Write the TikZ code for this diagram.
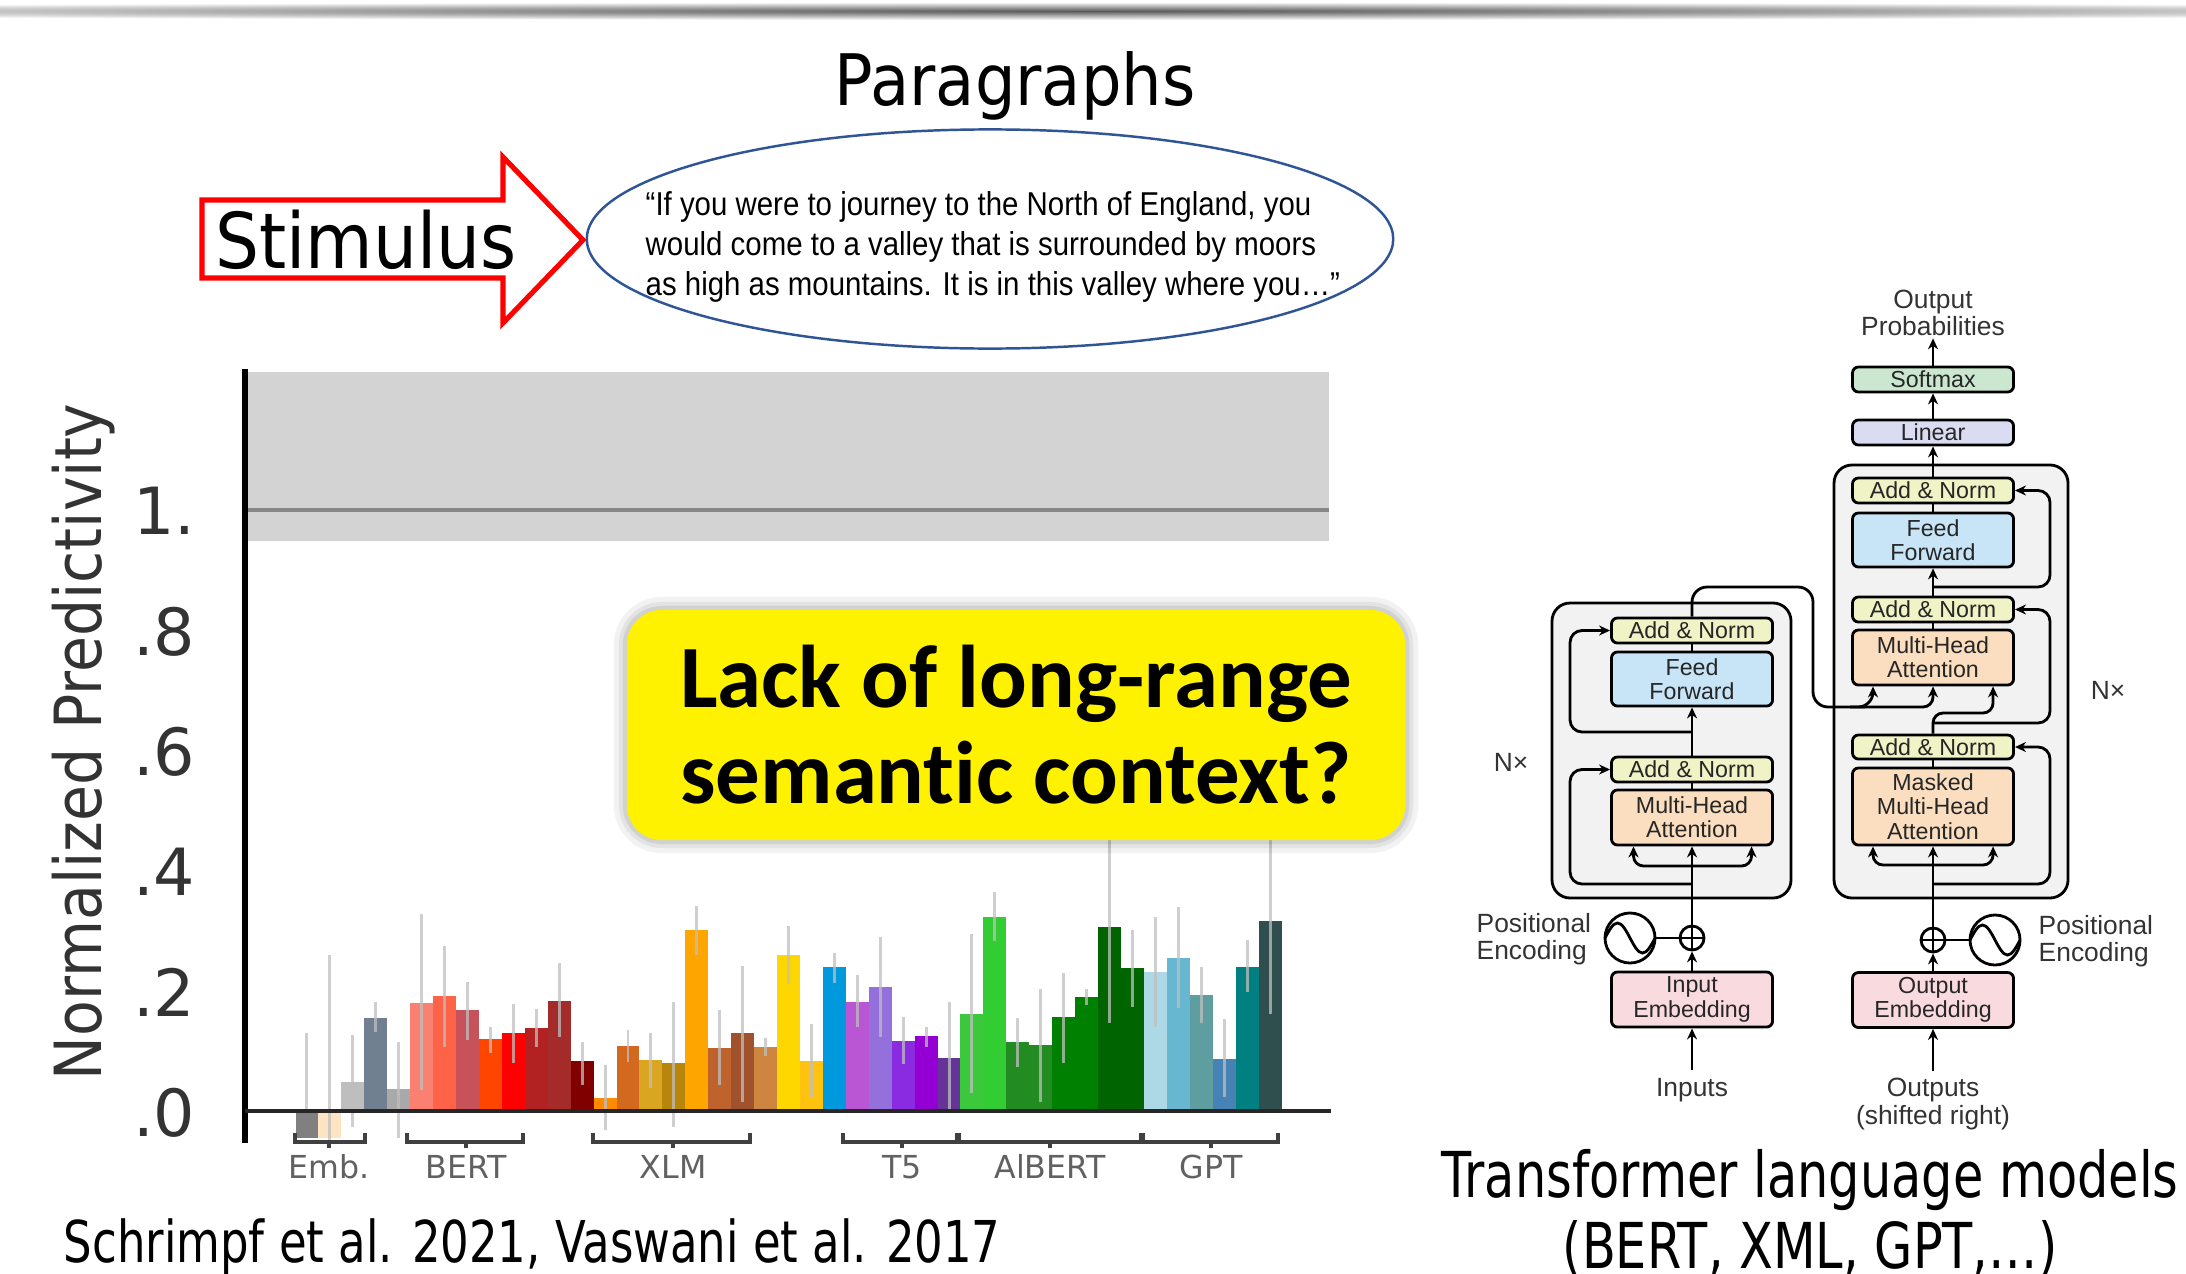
\documentclass[tikz,border=0pt]{standalone}
\usepackage{fontspec}
\setmainfont{DejaVu Sans}
\newfontfamily\slidefont[FakeStretch=0.9]{DejaVu Sans}
\newfontfamily\narrowfont[FakeStretch=0.78]{DejaVu Sans}
\newfontfamily\quotefont[FakeStretch=0.89]{Liberation Sans}
\newfontfamily\tffont{Liberation Sans}
\newfontfamily\calloutfont[Ligatures={NoCommon}]{Carlito}
\usetikzlibrary{arrows.meta,shapes.geometric}

\definecolor{ellblue}{HTML}{2F5597}
\definecolor{bandgray}{HTML}{D3D3D3}
\definecolor{softc}{HTML}{CBE7CF}
\definecolor{linc}{HTML}{DADDF2}
\definecolor{addc}{HTML}{EFF3C6}
\definecolor{ffc}{HTML}{C7E5F6}
\definecolor{mhac}{HTML}{FBDEC0}
\definecolor{embc}{HTML}{F8DADF}
\definecolor{outerc}{HTML}{F2F2F2}

\begin{document}
\begin{tikzpicture}[x=0.01cm, y=-0.01cm,
tbox/.style={draw, line width=0.8pt, rounded corners=0.6mm, minimum width=16.1mm, inner sep=0pt, align=center, text=black!85, font=\tffont\fontsize{6.6pt}{6.9pt}\selectfont},
addnorm/.style={tbox, fill=addc, minimum height=2.5mm},
ffbox/.style={tbox, fill=ffc, minimum height=5.4mm},
mhabox/.style={tbox, fill=mhac, minimum height=5.5mm},
embbox/.style={tbox, fill=embc, minimum height=5.5mm},
outerbox/.style={draw, fill=outerc, line width=0.8pt, rounded corners=1.8mm},
tlabel/.style={inner sep=2pt, align=center, text=black!80, font=\tffont\fontsize{7.5pt}{7.7pt}\selectfont},
tline/.style={line width=0.8pt},
tarrow/.style={-{Stealth[length=1.1mm, width=1mm]}, line width=0.8pt},
ticklab/.style={inner sep=0pt, text=black!80, font=\fontsize{18.5pt}{20pt}\selectfont},
grplab/.style={text=black!62, font=\fontsize{9pt}{10pt}\selectfont},
bracket/.style={line width=0.9pt, black!75},
errbar/.style={line width=0.85pt, black!25, opacity=0.75},
]
\useasboundingbox (0,0) rectangle (2186,1273);
\fill[white] (0,0) rectangle (2186,1273);

%top rule
\shade[inner color=black!65, outer color=white] (1093,11) ellipse [x radius=1700, y radius=9];

%Title and stimulus
\node[anchor=base, font=\slidefont\fontsize{20.2pt}{22pt}\selectfont] (title) at (1015,106) {Paragraphs};
\draw[red, line width=1.45pt] (202,200) -- (503,200) -- (503,157) -- (583,240) -- (503,323) -- (503,278) -- (202,278) -- cycle;
\node[anchor=base, font=\slidefont\fontsize{21.9pt}{24pt}\selectfont] (stim) at (366,268) {Stimulus};
\node[ellipse, draw=ellblue, line width=0.7pt, minimum width=80.6mm, minimum height=21.9mm] (para) at (990,239) {};
\node[anchor=west, align=left, inner sep=0pt, font=\quotefont\fontsize{9.4pt}{11.4pt}\selectfont] (quote) at (645,247)
  {“If you were to journey to the North of England, you\\would come to a valley that is surrounded by moors\\as high as mountains. It is in this valley where you…”};

%Chart
\fill[bandgray] (248,372) rectangle (1329,541);
\draw[black!47, line width=1.4pt] (248,510) -- (1329,510);
\foreach \c/\t/\ea/\eb [count=\i from 0] in {
  808080/1138/1033/1112, FFE4C4/1138/955/1145, BEBEBE/1082/1035/1127, 708090/1018/1002/1032,
  A9A9A9/1089/1042/1138, FA8072/1003/914/1090, FF6347/996/946/1047, C8525A/1010/982/1040,
  FF4500/1039/1027/1053, FF0000/1033/1004/1063, B22222/1028/1009/1047, A52A2A/1001/963/1037,
  800000/1061/1042/1085, FF8C00/1098/1065/1130, D2691E/1046/1030/1062, DAA520/1060/1033/1088,
  B8860B/1063/1002/1127, FFA500/930/906/955, C0622B/1048/1010/1085, A0522D/1033/966/1102,
  CD853F/1047/1038/1056, FFD700/955/926/984, FFC20E/1061/1024/1098, 0099DD/967/953/983,
  BA55D3/1002/975/1027, 9370DB/987/937/1037, 8A2BE2/1041/1017/1064, 9400D3/1036/1027/1047,
  663399/1058/1002/1109, 3CC83C/1014/934/1093, 32CD32/917/892/941, 228B22/1042/1018/1067,
  228B22/1045/989/1102, 008000/1017/973/1063, 008000/997/989/1005, 006400/927/830/1023,
  006400/968/930/1007, ADD8E6/972/917/1027, 67B7D1/958/907/1008, 5F9EA0/995/967/1023,
  4682B4/1059/1019/1097, 008080/967/940/992, 2F4F4F/921/830/1014}
{
  \definecolor{barc}{HTML}{\c}
  \fill[barc] ({295.5+\i*22.93},1111) rectangle ({295.5+(\i+1)*22.93},\t);
  \draw[errbar] ({295.5+(\i+0.5)*22.93},\ea) -- ({295.5+(\i+0.5)*22.93},\eb);
}
\draw[line width=1.7pt] (245,369) -- (245,1143);
\draw[line width=0.9pt, black!85] (245,1111) -- (1331,1111);
\foreach \v/\lab [count=\k] in {0/.0, 0.2/.2, 0.4/.4, 0.6/.6, 0.8/.8, 1/1.}
  \node[ticklab, anchor=east] (tick\k) at (196,{1113-602*\v}) {\lab};
\node[rotate=90, text=black!80, font=\slidefont\fontsize{18.5pt}{20pt}\selectfont] (ytitle) at (84,742) {Normalized Predictivity};
\foreach \a/\b/\m/\lab [count=\k] in {295/365/329/Emb., 407/523/466/BERT, 593/750/673/XLM, 843/957/902/T5, 959/1141/1050/AlBERT, 1143/1278/1211/GPT}
{
  \draw[bracket] (\a,1133) -- (\a,1142) -- (\b,1142) -- (\b,1133);
  \draw[bracket] (\m,1142) -- (\m,1148);
  \node[grplab, anchor=base] (grp\k) at (\m,1178) {\lab};
}

%Callout
\node[fill=yellow, rounded corners=3.5mm, minimum width=77.8mm, minimum height=23mm, align=center,
  preaction={draw=black, opacity=0.05, line width=2.6mm},
  preaction={draw=black, opacity=0.06, line width=1.6mm},
  preaction={draw=black, opacity=0.08, line width=0.8mm},
  font=\calloutfont\bfseries\fontsize{25.3pt}{27.3pt}\selectfont] (lack) at (1016,725) {Lack of long-range\\semantic context?};

%Transformer
\draw[outerbox] (1552,603) rectangle (1791,898);
\draw[outerbox] (1834,465) rectangle (2068,898);

\node[addnorm] (eadd1) at (1692,630.5) {Add \& Norm};
\node[ffbox] (eff) at (1692,679) {Feed\\Forward};
\node[addnorm] (eadd0) at (1692,769.5) {Add \& Norm};
\node[mhabox] (emha) at (1692,817.5) {Multi-Head\\Attention};
\node[draw, circle, line width=0.8pt, minimum size=2.4mm, inner sep=0pt] (eplus) at (1692,938) {};
\node[draw, circle, line width=0.8pt, minimum size=5mm, inner sep=0pt] (esin) at (1630,938) {};
\node[embbox] (eemb) at (1692,999.5) {Input\\Embedding};
\node[tlabel] (inputs) at (1692,1090) {Inputs};
\node[tlabel, anchor=west, align=left, inner sep=0pt] (posl) at (1476,939) {Positional\\Encoding};
\node[tlabel] (nenc) at (1511,762) {N×};

\node[tbox, fill=softc, minimum height=2.5mm] (softmax) at (1933,379.5) {Softmax};
\node[tbox, fill=linc, minimum height=2.5mm] (linear) at (1933,432.5) {Linear};
\node[addnorm] (dadd2) at (1933,490.5) {Add \& Norm};
\node[ffbox] (dff) at (1933,540) {Feed\\Forward};
\node[addnorm] (dadd1) at (1933,609.5) {Add \& Norm};
\node[mhabox] (dmha) at (1933,657.5) {Multi-Head\\Attention};
\node[addnorm, minimum height=2.4mm] (dadd0) at (1933,747) {Add \& Norm};
\node[mhabox, minimum height=7.7mm] (dmmha) at (1933,806.5) {Masked\\Multi-Head\\Attention};
\node[draw, circle, line width=0.8pt, minimum size=2.4mm, inner sep=0pt] (dplus) at (1933,940) {};
\node[draw, circle, line width=0.8pt, minimum size=5mm, inner sep=0pt] (dsin) at (1995,940) {};
\node[embbox] (demb) at (1933,1000) {Output\\Embedding};
\node[tlabel] (outputs) at (1933,1104) {Outputs\\(shifted right)};
\node[tlabel, inner sep=0.5pt] (outprob) at (1933,313) {Output\\Probabilities};
\node[tlabel, anchor=west, align=left, inner sep=0pt] (posr) at (2038,941) {Positional\\Encoding};
\node[tlabel] (ndec) at (2108,690) {N×};

%plus and sine marks
\draw[tline] (eplus.north) -- (eplus.south) (eplus.west) -- (eplus.east);
\draw[tline] (dplus.north) -- (dplus.south) (dplus.west) -- (dplus.east);
\draw[tline] ([xshift=-2.5mm]esin.center) sin ++(1.25mm,1.5mm) cos ++(1.25mm,-1.5mm) sin ++(1.25mm,-1.5mm) cos ++(1.25mm,1.5mm);
\draw[tline] ([xshift=-2.5mm]dsin.center) sin ++(1.25mm,1.5mm) cos ++(1.25mm,-1.5mm) sin ++(1.25mm,-1.5mm) cos ++(1.25mm,1.5mm);

%Encoder lines
\draw[tarrow] (inputs.north) -- (eemb.south);
\draw[tarrow] (eemb.north) -- (eplus.south);
\draw[tline] (esin.east) -- (eplus.west);
\draw[tarrow] (eplus.north) -- (emha.south);
\draw[tarrow, rounded corners=1mm] (1692,866) -| ([xshift=-5.85mm]emha.south);
\draw[tarrow, rounded corners=1mm] (1692,866) -| ([xshift=5.95mm]emha.south);
\draw[tarrow, rounded corners=1.2mm] (1692,884) -| (1570,769.5) -- (eadd0.west);
\draw[tline] (emha.north) -- (eadd0.south);
\draw[tarrow] (eadd0.north) -- (eff.south);
\draw[tarrow, rounded corners=1.2mm] (1692,732) -| (1570,630.5) -- (eadd1.west);
\draw[tline] (eff.north) -- (eadd1.south);
\draw[tarrow, rounded corners=1.5mm] (eadd1.north) |- (1813,587) |- (1850,707) -| ([xshift=-6mm]dmha.south);
\draw[tarrow, rounded corners=1mm] (1850,707) -| (dmha.south);

%Decoder lines
\draw[tarrow] (outputs.north) -- (demb.south);
\draw[tarrow] (demb.north) -- (dplus.south);
\draw[tline] (dsin.west) -- (dplus.east);
\draw[tarrow] (dplus.north) -- (dmmha.south);
\draw[tarrow, rounded corners=1mm] (1933,865) -| ([xshift=-6mm]dmmha.south);
\draw[tarrow, rounded corners=1mm] (1933,865) -| ([xshift=6mm]dmmha.south);
\draw[tarrow, rounded corners=1.2mm] (1933,884) -| (2050,747) -- (dadd0.east);
\draw[tline] (dmmha.north) -- (dadd0.south);
\draw[tarrow, rounded corners=1mm] (dadd0.north) |- (1970,713) -| ([xshift=6mm]dmha.south);
\draw[tarrow, rounded corners=1.2mm] (1933,723) -| (2050,609.5) -- (dadd1.east);
\draw[tline] (dmha.north) -- (dadd1.south);
\draw[tarrow] (dadd1.north) -- (dff.south);
\draw[tarrow, rounded corners=1.2mm] (1933,587) -| (2050,490.5) -- (dadd2.east);
\draw[tline] (dff.north) -- (dadd2.south);
\draw[tarrow] (dadd2.north) -- (linear.south);
\draw[tarrow] (linear.north) -- (softmax.south);
\draw[tarrow] (softmax.north) -- (outprob.south);

%Captions
\node[anchor=base west, inner sep=0pt, font=\narrowfont\fontsize{16.4pt}{18pt}\selectfont] (cite) at (63,1262) {Schrimpf et al. 2021, Vaswani et al. 2017};
\node[align=center, font=\narrowfont\fontsize{18pt}{20.2pt}\selectfont] (tfcap) at (1810,1213) {Transformer language models\\(BERT, XML, GPT,…)};
\end{tikzpicture}
\end{document}
